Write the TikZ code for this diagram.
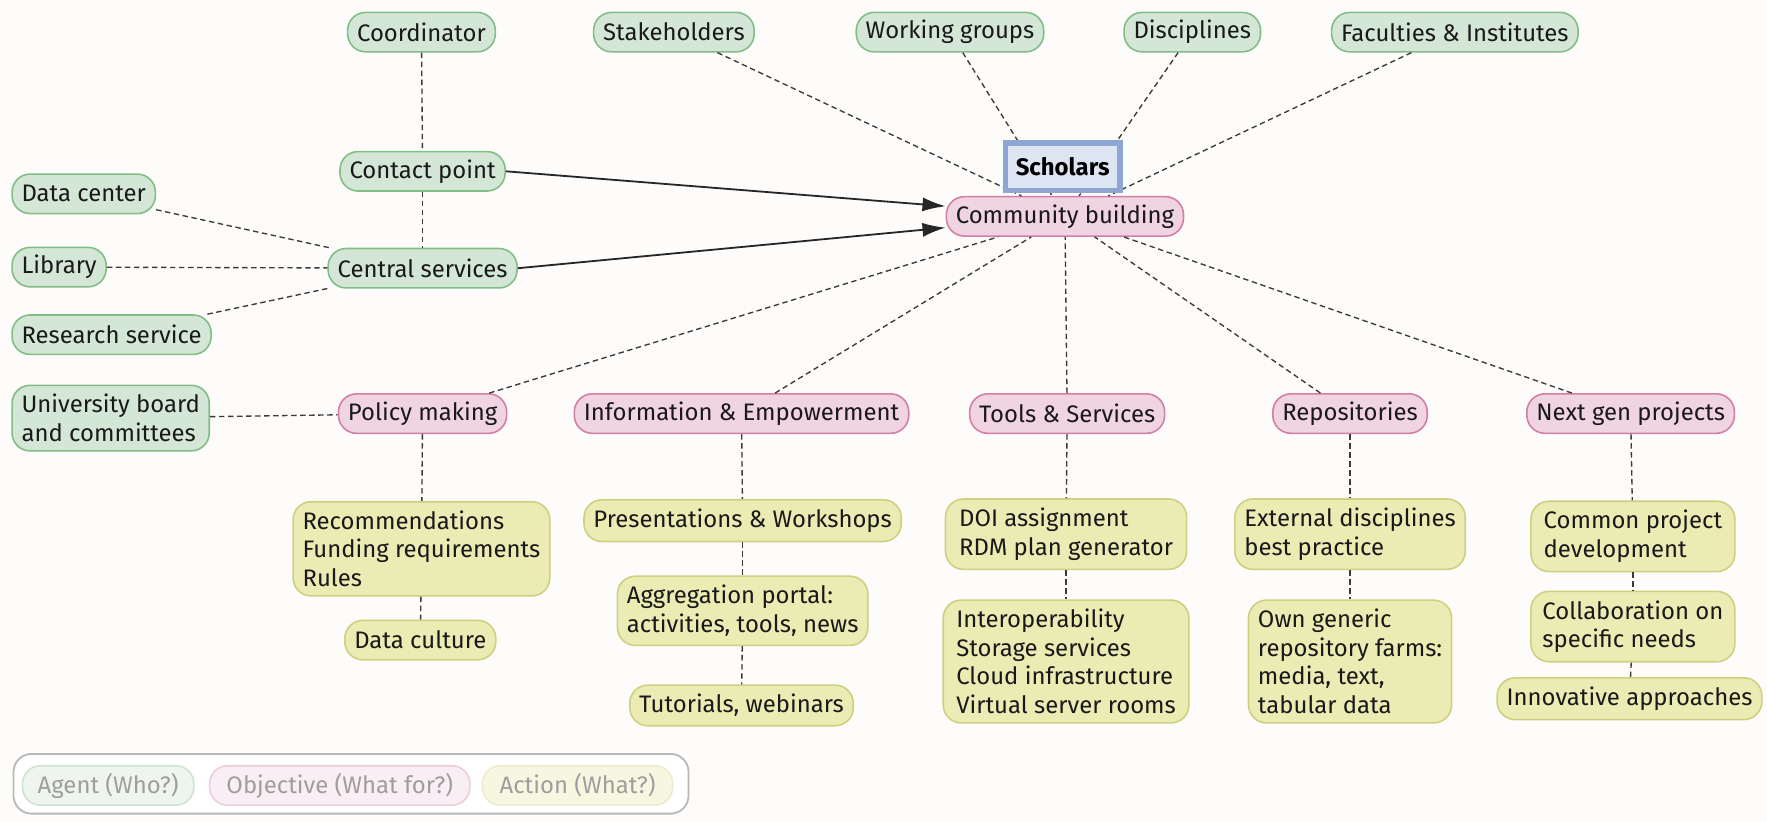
\documentclass[tikz,border=0pt]{standalone}
\usepackage{fontspec}
\setmainfont{Fira Sans}
\usepackage{xcolor}
\usepackage{tikz}
\usetikzlibrary{arrows.meta}

\definecolor{agentfill}{HTML}{D4E7D6}
\definecolor{agentline}{HTML}{82BD86}
\definecolor{objfill}{HTML}{F0D4E1}
\definecolor{objline}{HTML}{D27FA5}
\definecolor{actfill}{HTML}{EBEBB4}
\definecolor{actline}{HTML}{CFCF80}
\definecolor{scholfill}{HTML}{DDE4F2}
\definecolor{scholline}{HTML}{8FA5D2}
\definecolor{bgpaper}{HTML}{FDFCFB}
\definecolor{linkgray}{HTML}{3A3A3A}

\tikzset{
  box/.style={rounded corners=8pt, line width=0.7pt, inner xsep=4.2pt, inner ysep=2pt,
    minimum height=17.5pt, font=\fontsize{10.6}{12.7}\selectfont, align=left, text=black!90},
  agent/.style={box, fill=agentfill, draw=agentline},
  objective/.style={box, fill=objfill, draw=objline},
  action/.style={box, fill=actfill, draw=actline, inner ysep=4pt},
  scholar/.style={draw=scholline, fill=scholfill, line width=2.4pt,
    font=\fontsize{10.6}{12}\selectfont\bfseries, minimum width=51pt, minimum height=21pt},
  link/.style={linkgray, line width=0.6pt, dash pattern=on 2.4pt off 1.6pt},
  feed/.style={black!85, line width=0.8pt, -{Latex[length=3.6mm,width=2.2mm]}},
  legend/.style={box, text=black!38}
}

\begin{document}
\begin{tikzpicture}[x=0.5pt,y=-0.5pt]
\fill[bgpaper] (0,0) rectangle (1568,729);
\useasboundingbox (0,0) rectangle (1568,729);
% TOP ROW: agents
\node[agent] (coord) at (374,28.5) {Coordinator};
\node[agent] (stake) at (598,28.5) {Stakeholders};
\node[agent] (wgroups) at (843,28.5) {Working groups};
\node[agent] (discip) at (1058,28.5) {Disciplines};
\node[agent] (facul) at (1291,28.5) {Faculties \& Institutes};
% LEFT SIDE: agents
\node[agent] (cpoint) at (375,152) {Contact point};
\node[agent] (csvc) at (375,238) {Central services};
\node[agent, anchor=west] (dcenter) at (10,172) {Data center};
\node[agent, anchor=west] (library) at (10,237) {Library};
\node[agent, anchor=west] (rsvc) at (10,297) {Research service};
\node[agent, anchor=west, inner ysep=4pt] (uboard) at (10,371) {University board\\and committees};
% CENTER
\node[objective] (cbuild) at (945,192) {Community building};
% SECOND ROW: objectives
\node[objective] (policy) at (375,367) {Policy making};
\node[objective] (infoemp) at (658,367) {Information \& Empowerment};
\node[objective] (tools) at (947,367) {Tools \& Services};
\node[objective] (repos) at (1198,367) {Repositories};
\node[objective] (nextgen) at (1447,367) {Next gen projects};
% BOTTOM: actions
\node[action] (recom) at (374,487) {Recommendations\\Funding requirements\\Rules};
\node[action] (dculture) at (373,568) {Data culture};
\node[action] (present) at (659,462) {Presentations \& Workshops};
\node[action] (aggreg) at (659,542) {Aggregation portal:\\activities, tools, news};
\node[action] (tutor) at (658,626) {Tutorials, webinars};
\node[action, minimum width=107pt] (doi) at (946,474) {DOI assignment\\RDM plan generator};
\node[action, minimum width=109pt] (interop) at (946,587) {Interoperability\\Storage services\\Cloud infrastructure\\Virtual server rooms};
\node[action] (extdisc) at (1198,474) {External disciplines\\best practice};
\node[action] (owngen) at (1198,587) {Own generic\\repository farms:\\media, text,\\tabular data};
\node[action, minimum width=90.5pt] (common) at (1449,476) {Common project\\development};
\node[action, minimum width=90.5pt] (collab) at (1449,556) {Collaboration on\\specific needs};
\node[action] (innov) at (1446,620) {Innovative approaches};

% dashed links
\draw[link] (coord) -- (cpoint);
\draw[link] (cpoint) -- (csvc);
\draw[link] (dcenter) -- (csvc);
\draw[link] (library) -- (csvc);
\draw[link] (rsvc) -- (csvc);
\draw[link] (uboard) -- (policy);
\foreach \src in {stake,wgroups,discip,facul,policy,infoemp,tools,repos,nextgen}
    \draw[link] (\src) -- (cbuild);
\draw[link] (policy) -- (recom);
\draw[link] (recom) -- (dculture);
\draw[link] (infoemp) -- (present);
\draw[link] (present) -- (aggreg);
\draw[link] (aggreg) -- (tutor);
\draw[link] (tools) -- (doi);
\draw[link] (doi) -- (interop);
\draw[link] (repos) -- (extdisc);
\draw[link] (extdisc) -- (owngen);
\draw[link] (nextgen) -- (common);
\draw[link] (common) -- (collab);
\draw[link] (collab) -- (innov);
% solid arrows
\draw[feed] (cpoint.east) -- ([yshift=4.5pt]cbuild.west);
\draw[feed] (csvc.east) -- ([yshift=-5pt]cbuild.west);
% Scholars on top of the links
\node[scholar] (schol) at (943,148) {Scholars};

% LEGEND
\draw[black!28, line width=0.8pt, rounded corners=8pt, fill=white] (12,669) rectangle (611,722);
\node[legend, fill=agentfill!40, draw=agentline!40, minimum width=76pt] (lagent) at (96,697) {Agent (Who?)};
\node[legend, fill=objfill!40, draw=objline!40, minimum width=115.5pt] (lobj) at (301.5,697) {Objective (What for?)};
\node[legend, fill=actfill!40, draw=actline!40, minimum width=84.5pt] (lact) at (512.5,697) {Action (What?)};
\end{tikzpicture}
\end{document}
